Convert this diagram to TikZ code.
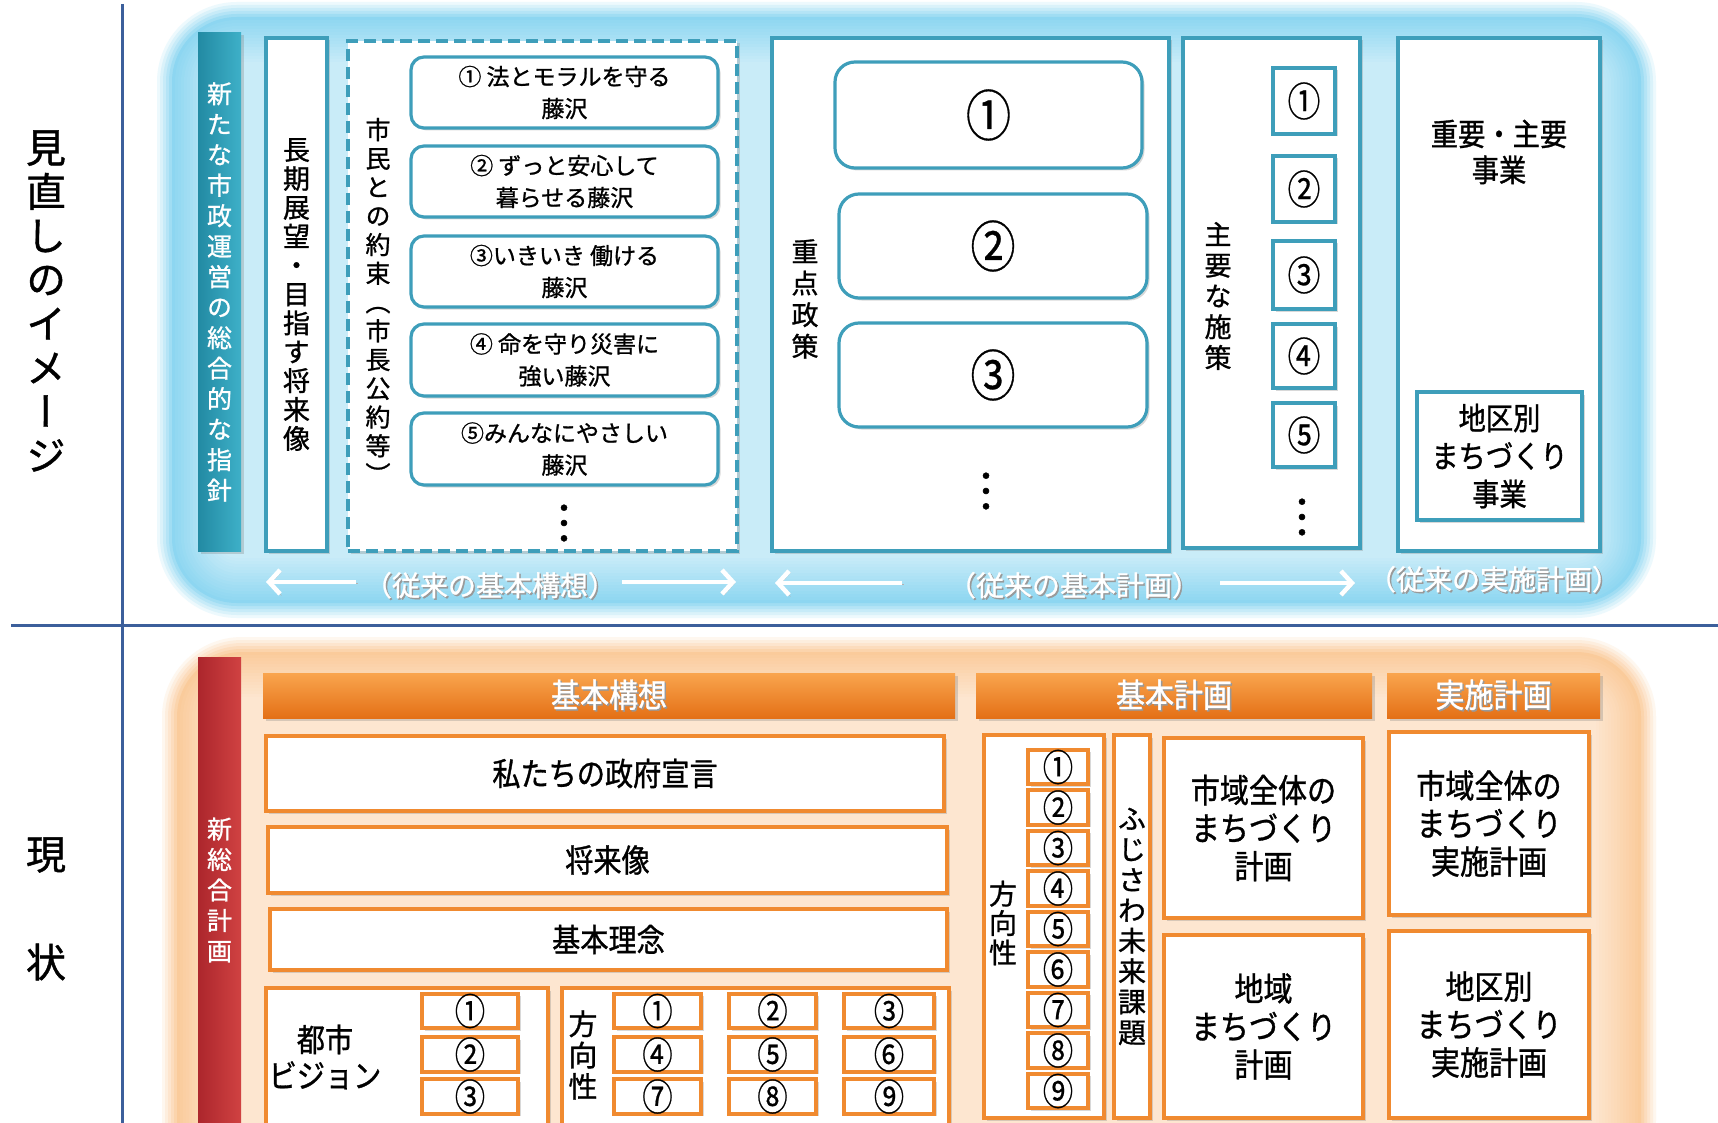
\documentclass[tikz,border=0pt]{standalone}
\usepackage{fontspec}
\setmainfont{Noto Sans CJK JP}[FakeBold=1]
\newfontfamily\jpv{Noto Sans CJK JP}[RawFeature=+vert,FakeBold=1]
\newfontfamily\jpc{Noto Sans CJK JP}[FakeStretch=0.88,FakeBold=1]
\newfontfamily\jpn{Noto Sans CJK JP}[FakeStretch=0.82,FakeBold=0.6]
\usetikzlibrary{shadows,arrows.meta}

\definecolor{axisb}{RGB}{60,95,155}
\definecolor{tealb}{RGB}{62,158,186}
\definecolor{tbarA}{RGB}{34,138,163}
\definecolor{tbarB}{RGB}{62,176,200}
\definecolor{cyanedge}{RGB}{135,212,240}
\definecolor{orgedge}{RGB}{250,200,150}
\definecolor{orgb}{RGB}{240,138,48}
\definecolor{ohA}{RGB}{249,165,78}
\definecolor{ohB}{RGB}{228,112,22}
\definecolor{redA}{RGB}{172,38,44}
\definecolor{redB}{RGB}{208,66,66}

\newcommand\fs[2]{\fontsize{#1}{#2}\selectfont}
\newcommand\sht[1]{\makebox[0pt][l]{\hspace*{1.5pt}\raisebox{-1.5pt}{\color{black!40}#1}}\textcolor{white}{#1}}

\ExplSyntaxOn
\cs_new:Npn \my_vchar:n #1 { \hbox_to_wd:nn {1em} { \hss #1 \hss } }
\NewDocumentCommand \vtxt { O{1.15} m }
  { \vbox { \jpv \baselineskip=#1em \lineskiplimit=-2em \tl_map_function:nN {#2} \my_vchar:n } }
\ExplSyntaxOff

% box from corners: \bx[style]{name}{x1}{y1}{x2}{y2}{text}
\newcommand\bx[7][]{%
  \pgfmathsetmacro\bxw{(#5)-(#3)}\pgfmathsetmacro\bxh{(#6)-(#4)}%
  \node[#1, minimum width=\bxw pt, minimum height=\bxh pt] (#2) at ({((#3)+(#5))/2},{((#4)+(#6))/2}) {#7};}

\tikzset{
  shd/.style={drop shadow={shadow xshift=2.5pt,shadow yshift=-2.5pt,opacity=0.3}},
  tbox/.style={draw=tealb, line width=3.2pt, fill=white, inner sep=0pt, shd},
  trbox/.style={tbox, rounded corners=13pt},
  tdash/.style={tbox, dash pattern=on 12pt off 6pt},
  tbar/.style={inner sep=0pt, left color=tbarA, right color=tbarB, text=white, shd},
  obox/.style={draw=orgb, line width=4pt, fill=white, inner sep=0pt, shd},
  ohead/.style={inner sep=0pt, top color=ohA, bottom color=ohB, shd},
  rbar/.style={inner sep=0pt, left color=redA, right color=redB, text=white},
  arr/.style={draw=white, line width=4.5pt, -{Straight Barb[length=11pt,width=24pt,line width=4.5pt]},
    preaction={draw=black!30, transform canvas={shift={(1.5pt,-1.5pt)}}}},
  lbl/.style={inner sep=0pt, font=\fs{28}{32}},
  vdots/.style={inner sep=0pt, font=\fs{46}{46}},
  onum/.style={obox, font=\jpn\fs{37}{38}},
}

\begin{document}
\begin{tikzpicture}[x=1pt,y=-1pt]
\useasboundingbox (0,0) rectangle (1718,1123);
\fill[white] (0,0) rectangle (1718,1123);

% glowing backgrounds
\foreach \i in {0,...,20}{
  \pgfmathtruncatemacro\pc{\i<6 ? 15+16*\i : 95-(\i-5)*3.3}
  \pgfmathsetmacro\ins{\i*3}
  \pgfmathsetmacro\rc{max(80-\ins,10)}
  \fill[cyanedge!\pc!white, rounded corners=\rc pt] (157+\ins,2+\ins) rectangle (1656-\ins,618-\ins);
  \fill[orgedge!\pc!white, rounded corners=\rc pt] (162+\ins,637+\ins) rectangle (1656-\ins,1200);
}

% axes
\draw[axisb, line width=3.5pt] (122.7,4) -- (122.7,1123);
\draw[axisb, line width=3.5pt] (11,625.6) -- (1718,625.6);

% left labels
\node[font=\fs{40}{44}] (mina) at (46,301) {\vtxt[1.1]{見直しのイメージ}};
\node[font=\fs{40}{44}] (gen) at (46,855) {現};
\node[font=\fs{40}{44}] (jou) at (46,962) {状};

% ===== upper part =====
\bx[tbar, font=\fs{25}{30}]{bar1}{198}{33}{241}{551}{\vtxt[1.22]{新たな市政運営の総合的な指針}}
\bx[tbox, font=\fs{27}{30}]{vision}{266}{38}{327}{551}{\vtxt[1.07]{長期展望・目指す将来像}}
\bx[tdash]{promise}{348}{41}{737}{551}{}
\node[font=\fs{25}{30}] (promiset) at (378,301) {\vtxt[1.15]{市民との約束（市長公約等）}};
\bx[trbox, align=center, font=\fs{23}{32}]{p1}{411}{57}{718}{128}{① 法とモラルを守る\\藤沢}
\bx[trbox, align=center, font=\fs{23}{32}]{p2}{411}{146}{718}{217}{② ずっと安心して\\暮らせる藤沢}
\bx[trbox, align=center, font=\fs{23}{32}]{p3}{411}{236}{718}{307}{③いきいき 働ける\\藤沢}
\bx[trbox, align=center, font=\fs{23}{32}]{p4}{411}{324}{718}{396}{④ 命を守り災害に\\強い藤沢}
\bx[trbox, align=center, font=\fs{23}{32}]{p5}{411}{413}{718}{485}{⑤みんなにやさしい\\藤沢}
\node[vdots] (pdots) at (564,523) {︙};

\bx[tbox]{juten}{772}{38}{1169}{551}{}
\node[font=\fs{27}{30}] (jutent) at (805,299) {\vtxt[1.17]{重点政策}};
\bx[trbox, rounded corners=20pt, font=\jpn\fs{55}{58}]{k1}{835}{62}{1142}{168}{①}
\bx[trbox, rounded corners=20pt, font=\jpn\fs{55}{58}]{k2}{839}{194}{1147}{298}{②}
\bx[trbox, rounded corners=20pt, font=\jpn\fs{55}{58}]{k3}{839}{323}{1147}{427}{③}
\node[vdots] (kdots) at (986,491) {︙};

\bx[tbox]{shuyo}{1183}{38}{1360}{548}{}
\node[font=\fs{27}{30}] (shuyot) at (1218,296) {\vtxt[1.14]{主要な施策}};
\bx[tbox, font=\jpn\fs{40}{42}]{m1}{1273}{68}{1335}{134}{①}
\bx[tbox, font=\jpn\fs{40}{42}]{m2}{1273}{156}{1335}{222}{②}
\bx[tbox, font=\jpn\fs{40}{42}]{m3}{1273}{241}{1335}{309}{③}
\bx[tbox, font=\jpn\fs{40}{42}]{m4}{1273}{324}{1335}{388}{④}
\bx[tbox, font=\jpn\fs{40}{42}]{m5}{1273}{403}{1335}{467}{⑤}
\node[vdots] (mdots) at (1302,517) {︙};

\bx[tbox]{jigyo}{1398}{38}{1600}{551}{}
\node[font=\jpc\fs{31}{36}, align=center] (jigyot) at (1499,152) {重要・主要\\事業};
\bx[tbox, align=center, font=\jpc\fs{31}{38}]{chiku}{1417}{392}{1582}{520}{地区別\\まちづくり\\事業}

% bottom labels of upper part
\coordinate (l1a) at (356,582); \coordinate (l1b) at (266,582);
\coordinate (r1a) at (622,582); \coordinate (r1b) at (736,582);
\draw[arr] (l1a) -- (l1b);
\draw[arr] (r1a) -- (r1b);
\node[lbl] (lab1) at (490,586) {\sht{（従来の基本構想）}};
\coordinate (l2a) at (902,583); \coordinate (l2b) at (775,583);
\coordinate (r2a) at (1220,583); \coordinate (r2b) at (1355,583);
\draw[arr] (l2a) -- (l2b);
\draw[arr] (r2a) -- (r2b);
\node[lbl] (lab2) at (1074,586) {\sht{（従来の基本計画）}};
\node[lbl] (lab3) at (1494,580) {\sht{（従来の実施計画）}};

% ===== lower part =====
\bx[rbar, font=\fs{25}{30}]{bar2}{198}{657}{241}{1123}{\vtxt[1.22]{新総合計画}}
\bx[ohead, font=\jpc\fs{33}{36}]{h1}{263}{673}{955}{718}{\sht{基本構想}}
\bx[ohead, font=\jpc\fs{33}{36}]{h2}{976}{673}{1372}{718}{\sht{基本計画}}
\bx[ohead, font=\jpc\fs{33}{36}]{h3}{1387}{673}{1600}{718}{\sht{実施計画}}

\bx[obox, font=\jpc\fs{32}{36}]{s1}{266}{736}{944}{811}{私たちの政府宣言}
\bx[obox, font=\jpc\fs{32}{36}]{s2}{268}{827}{947}{893}{将来像}
\bx[obox, font=\jpc\fs{32}{36}]{s3}{270}{909}{947}{970}{基本理念}

\bx[obox]{toshi}{266}{988}{548}{1140}{}
\node[font=\jpc\fs{32}{36}, align=center] (toshit) at (325,1057) {都市\\ビジョン};
\bx[onum]{v1}{422}{997}{518}{1025}{①}
\bx[onum]{v2}{422}{1041}{518}{1068}{②}
\bx[onum]{v3}{422}{1083}{518}{1110}{③}

\bx[obox]{hoko}{562}{988}{949}{1140}{}
\node[font=\fs{29}{31}] (hokot) at (583,1055) {\vtxt[1.08]{方向性}};
\bx[onum]{ha1}{614}{997}{701}{1025}{①}
\bx[onum]{ha2}{729}{997}{816}{1025}{②}
\bx[onum]{ha3}{844}{997}{934}{1025}{③}
\bx[onum]{ha4}{614}{1041}{701}{1068}{④}
\bx[onum]{ha5}{729}{1041}{816}{1068}{⑤}
\bx[onum]{ha6}{844}{1041}{934}{1068}{⑥}
\bx[onum]{ha7}{614}{1083}{701}{1110}{⑦}
\bx[onum]{ha8}{729}{1083}{816}{1110}{⑧}
\bx[onum]{ha9}{844}{1083}{934}{1110}{⑨}

\bx[obox]{hoko2}{984}{735}{1104}{1118}{}
\node[font=\fs{28}{30}] (hoko2t) at (1003,923) {\vtxt[1.05]{方向性}};
\foreach \n [count=\k from 0] in {①,②,③,④,⑤,⑥,⑦,⑧,⑨}{
  \bx[onum]{hb\k}{1028}{752.5+40.5*\k}{1088}{781.5+40.5*\k}{\n}
}
\bx[obox, font=\fs{28}{30}]{fuji}{1114}{735}{1150}{1118}{\vtxt[1.09]{ふじさわ未来課題}}

\bx[obox, align=center, font=\jpc\fs{33}{38}]{c1}{1164}{738}{1363}{918}{市域全体の\\まちづくり\\計画}
\bx[obox, align=center, font=\jpc\fs{33}{38}]{c2}{1164}{935}{1363}{1118}{地域\\まちづくり\\計画}
\bx[obox, align=center, font=\jpc\fs{33}{38}]{d1}{1389}{732}{1589}{915}{市域全体の\\まちづくり\\実施計画}
\bx[obox, align=center, font=\jpc\fs{33}{38}]{d2}{1389}{931}{1589}{1118}{地区別\\まちづくり\\実施計画}
\end{tikzpicture}
\end{document}
